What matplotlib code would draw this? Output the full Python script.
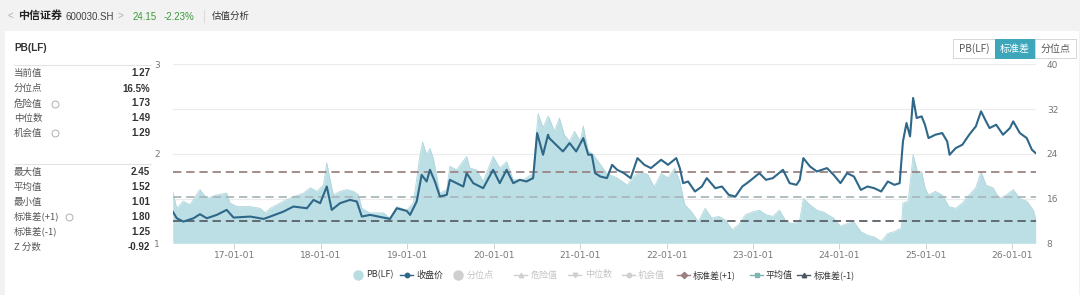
import matplotlib
matplotlib.use("Agg")
import matplotlib.pyplot as plt
import matplotlib.dates as mdates
from matplotlib.lines import Line2D
from matplotlib.patches import Rectangle
import pandas as pd

plt.rcParams['font.family'] = ['Noto Sans CJK SC', 'DejaVu Sans']
plt.rcParams['lines.scale_dashes'] = False

# ---------------- data ----------------
pb_dates = [
    "2016-04-15", "2016-05-02", "2016-05-30", "2016-06-27", "2016-08-08", "2016-09-06",
    "2016-10-18", "2016-11-29", "2016-12-13", "2017-01-12", "2017-03-09", "2017-04-20",
    "2017-05-11", "2017-06-01", "2017-07-27", "2017-09-07", "2017-10-20", "2017-11-17",
    "2017-12-15", "2018-01-12", "2018-01-26", "2018-02-09", "2018-02-23", "2018-03-23",
    "2018-04-21", "2018-05-19", "2018-06-09", "2018-06-23", "2018-07-28", "2018-09-22",
    "2018-10-20", "2018-11-18", "2018-12-30", "2019-01-27", "2019-02-24", "2019-03-07",
    "2019-03-24", "2019-04-07", "2019-04-21", "2019-05-19", "2019-06-17", "2019-06-30",
    "2019-07-29", "2019-09-09", "2019-09-23", "2019-10-21", "2019-11-18", "2019-12-30",
    "2020-01-27", "2020-02-25", "2020-03-24", "2020-05-05", "2020-06-16", "2020-07-07",
    "2020-07-28", "2020-08-18", "2020-08-23", "2020-09-14", "2020-10-05", "2020-10-26",
    "2020-11-17", "2020-12-08", "2021-01-01", "2021-01-14", "2021-02-04", "2021-02-26",
    "2021-03-27", "2021-04-24", "2021-06-06", "2021-07-19", "2021-08-16", "2021-09-14",
    "2021-10-13", "2021-11-10", "2021-12-09", "2022-01-07", "2022-02-04", "2022-02-26",
    "2022-03-19", "2022-04-17", "2022-05-15", "2022-06-13", "2022-07-11", "2022-08-09",
    "2022-09-07", "2022-10-05", "2022-11-03", "2022-12-01", "2022-12-30", "2023-01-28",
    "2023-02-25", "2023-03-26", "2023-04-23", "2023-05-22", "2023-06-19", "2023-07-18",
    "2023-08-02", "2023-08-30", "2023-09-28", "2023-10-26", "2023-12-08", "2024-01-06",
    "2024-02-03", "2024-03-03", "2024-04-01", "2024-04-29", "2024-05-28", "2024-06-26",
    "2024-07-24", "2024-08-21", "2024-09-19", "2024-09-26", "2024-10-18", "2024-11-08",
    "2024-11-29", "2024-12-14", "2024-12-28", "2025-01-12", "2025-02-10", "2025-03-11",
    "2025-04-08", "2025-05-07", "2025-06-04", "2025-07-03", "2025-07-31", "2025-08-22",
    "2025-09-12", "2025-10-11", "2025-11-08", "2025-12-07", "2026-01-05", "2026-02-02",
    "2026-03-03", "2026-03-31", "2026-04-10",
]
pb_values = [
    1.58, 1.39, 1.47, 1.43, 1.60, 1.50,
    1.54, 1.56, 1.45, 1.41, 1.41, 1.39,
    1.34, 1.39, 1.47, 1.52, 1.56, 1.62,
    1.58, 1.65, 1.90, 1.71, 1.54, 1.58,
    1.60, 1.58, 1.54, 1.39, 1.34, 1.34,
    1.28, 1.41, 1.37, 1.45, 1.99, 2.13,
    1.99, 2.06, 1.95, 1.56, 1.60, 1.86,
    1.82, 1.97, 1.84, 1.82, 1.69, 1.97,
    1.84, 1.91, 1.71, 1.71, 1.78, 2.45,
    2.29, 2.42, 2.40, 2.25, 2.40, 2.21,
    2.14, 2.25, 2.14, 2.31, 2.03, 1.99,
    1.88, 1.78, 1.73, 1.65, 1.75, 1.80,
    1.77, 1.63, 1.78, 1.73, 1.84, 1.69,
    1.43, 1.35, 1.24, 1.39, 1.28, 1.30,
    1.26, 1.15, 1.21, 1.32, 1.35, 1.37,
    1.32, 1.30, 1.37, 1.24, 1.22, 1.26,
    1.50, 1.43, 1.37, 1.35, 1.28, 1.19,
    1.22, 1.24, 1.13, 1.09, 1.07, 1.02,
    1.11, 1.13, 1.17, 1.45, 1.47, 1.99,
    1.77, 1.80, 1.62, 1.54, 1.58, 1.54,
    1.41, 1.39, 1.45, 1.54, 1.62, 1.80,
    1.65, 1.62, 1.50, 1.54, 1.60, 1.50,
    1.47, 1.37, 1.27,
]

close_dates = [
    "2016-04-15", "2016-05-02", "2016-05-30", "2016-07-12", "2016-08-08", "2016-09-06",
    "2016-10-18", "2016-11-29", "2016-12-28", "2017-03-09", "2017-05-04", "2017-06-01",
    "2017-07-27", "2017-09-07", "2017-11-03", "2017-12-01", "2017-12-29", "2018-01-26",
    "2018-02-16", "2018-03-23", "2018-05-04", "2018-06-02", "2018-06-23", "2018-07-28",
    "2018-09-22", "2018-10-20", "2018-11-18", "2018-12-30", "2019-01-13", "2019-02-10",
    "2019-03-03", "2019-03-24", "2019-04-07", "2019-04-28", "2019-05-19", "2019-06-17",
    "2019-06-30", "2019-07-29", "2019-08-26", "2019-09-09", "2019-10-07", "2019-11-18",
    "2019-12-30", "2020-01-27", "2020-02-25", "2020-03-24", "2020-04-21", "2020-05-19",
    "2020-06-16", "2020-07-03", "2020-07-28", "2020-08-18", "2020-08-23", "2020-09-21",
    "2020-10-20", "2020-11-17", "2020-12-15", "2021-01-14", "2021-02-04", "2021-02-19",
    "2021-03-05", "2021-03-27", "2021-04-24", "2021-05-16", "2021-06-06", "2021-07-05",
    "2021-08-02", "2021-08-31", "2021-09-29", "2021-10-27", "2021-12-09", "2022-01-07",
    "2022-02-11", "2022-02-26", "2022-03-12", "2022-04-02", "2022-05-01", "2022-05-30",
    "2022-06-20", "2022-07-26", "2022-08-23", "2022-09-21", "2022-10-19", "2022-11-17",
    "2022-12-16", "2023-01-28", "2023-02-25", "2023-03-26", "2023-05-08", "2023-06-05",
    "2023-07-04", "2023-07-18", "2023-08-02", "2023-08-30", "2023-09-28", "2023-11-10",
    "2023-12-08", "2024-01-06", "2024-02-03", "2024-03-03", "2024-04-01", "2024-04-29",
    "2024-05-28", "2024-06-26", "2024-07-24", "2024-08-21", "2024-09-12", "2024-09-26",
    "2024-10-11", "2024-10-26", "2024-11-08", "2024-11-23", "2024-12-14", "2024-12-28",
    "2025-01-12", "2025-02-10", "2025-03-11", "2025-04-01", "2025-04-11", "2025-05-07",
    "2025-06-04", "2025-07-03", "2025-07-31", "2025-08-22", "2025-09-12", "2025-09-27",
    "2025-10-25", "2025-11-23", "2025-12-22", "2026-01-05", "2026-02-02", "2026-03-03",
    "2026-03-25", "2026-04-10",
]
close_values = [
    13.67, 12.48, 11.88, 12.48, 13.20, 12.48,
    13.08, 13.97, 12.60, 12.78, 12.36, 12.78,
    13.67, 14.57, 14.27, 15.76, 15.17, 18.15,
    13.97, 15.17, 15.76, 15.47, 12.78, 13.08,
    12.60, 12.36, 14.27, 13.79, 13.08, 15.47,
    20.24, 19.05, 21.14, 19.05, 16.36, 16.66,
    19.35, 18.75, 18.15, 20.54, 18.75, 17.85,
    21.14, 18.75, 21.14, 18.75, 19.35, 19.05,
    19.65, 27.71, 23.83, 27.41, 26.81, 25.62,
    24.42, 25.92, 24.42, 26.81, 23.83, 23.83,
    20.54, 19.94, 19.65, 22.03, 21.14, 20.54,
    19.65, 23.23, 22.03, 21.44, 22.93, 22.03,
    23.23, 21.44, 18.75, 19.05, 17.26, 18.15,
    19.65, 17.85, 18.15, 16.66, 16.36, 18.15,
    19.05, 20.54, 19.35, 19.65, 21.14, 18.75,
    18.45, 19.35, 23.23, 21.74, 20.84, 21.44,
    20.24, 18.75, 20.54, 19.94, 17.55, 18.15,
    17.85, 17.26, 19.05, 18.45, 18.75, 26.21,
    29.50, 27.11, 33.98, 30.40, 30.69, 29.20,
    26.81, 27.41, 27.71, 26.21, 23.83, 25.02,
    25.62, 27.41, 28.90, 31.59, 29.80, 28.60,
    29.20, 27.41, 28.60, 29.80, 27.71, 26.81,
    24.72, 24.12,
]

std_plus1 = 1.80
mean_val = 1.52
std_minus1 = 1.25

stat_labels_1 = ["当前值", "分位点", "危险值", "中位数", "机会值"]
stat_values_1 = ["1.27", "16.5%", "1.73", "1.49", "1.29"]
stat_info_1 = [False, False, True, False, True]
stat_labels_2 = ["最大值", "平均值", "最小值", "标准差(+1)", "标准差(-1)", "Z 分数"]
stat_values_2 = ["2.45", "1.52", "1.01", "1.80", "1.25", "-0.92"]
stat_info_2 = [False, False, False, True, False, False]

left_ticks = [1, 2, 3]
right_ticks = [8, 16, 24, 32, 40]

legend_names = ["PB(LF)", "收盘价", "分位点", "危险值", "中位数", "机会值", "标准差(+1)", "平均值", "标准差(-1)"]

# ---------------- figure ----------------
W, H = 1080, 295
fig = plt.figure(figsize=(W / 100, H / 100), dpi=100)
fig.patch.set_facecolor('#f2f2f2')


def fx(x):
    return x / W


def fy(y):
    return 1 - y / H


LIB = ['Liberation Sans', 'DejaVu Sans']

fig.add_artist(Rectangle((fx(5), 0), fx(1074), fy(31), transform=fig.transFigure,
                         facecolor='white', edgecolor='none', zorder=0))

# header
fig.text(fx(8), fy(16), "<", fontsize=7, color='#b0b0b0', va='center', family=LIB)
fig.text(fx(18), fy(16), "中信证券", fontsize=7.9, fontweight='bold', color='#222222', va='center')
fig.text(fx(65), fy(16.5), "600030.SH", fontsize=7, color='#444444', va='center', family=LIB)
fig.text(fx(118), fy(16), ">", fontsize=7, color='#b0b0b0', va='center', family=LIB)
fig.text(fx(133), fy(16.5), "24.15", fontsize=7, color='#3a9a3a', va='center', family=LIB)
fig.text(fx(164), fy(16.5), "-2.23%", fontsize=7, color='#3a9a3a', va='center', family=LIB)
fig.add_artist(Line2D([fx(204), fx(204)], [fy(10), fy(22)], transform=fig.transFigure, color='#dddddd', lw=0.8))
fig.text(fx(212), fy(16), "估值分析", fontsize=6.8, color='#333333', va='center')

# left stats panel
fig.text(fx(14), fy(48), "PB(LF)", fontsize=7.2, fontweight='bold', color='#333333', va='center', family=LIB)
fig.add_artist(Line2D([fx(14), fx(151)], [fy(65), fy(65)], transform=fig.transFigure, color='#e3e3e3', lw=0.8))
fig.add_artist(Line2D([fx(14), fx(151)], [fy(164), fy(164)], transform=fig.transFigure, color='#e3e3e3', lw=0.8))
ys1 = [73.3, 88.5, 103.5, 118, 133]
ys2 = [172, 187.3, 202.3, 217.3, 232.3, 247.3]
for labels, values, infos, ys in [(stat_labels_1, stat_values_1, stat_info_1, ys1),
                                  (stat_labels_2, stat_values_2, stat_info_2, ys2)]:
    for lab, val, inf, yy in zip(labels, values, infos, ys):
        fig.text(fx(14), fy(yy), lab, fontsize=6.8, color='#555555', va='center')
        fig.text(fx(150), fy(yy), val, fontsize=7, color='#333333', va='center', ha='right',
                 fontweight='bold', family=LIB)
        if inf:
            xi = 55 if len(lab) == 3 else 69
            fig.add_artist(Line2D([fx(xi)], [fy(yy)], transform=fig.transFigure, marker='o',
                                  ms=5, mfc='none', mec='#b0b0b0', mew=0.7))

# buttons
btns = [("PB(LF)", 953, 995, False), ("标准差", 995, 1035, True), ("分位点", 1035, 1076, False)]
for name, x0, x1, active in btns:
    fig.add_artist(Rectangle((fx(x0), fy(58)), fx(x1 - x0), fy(39) - fy(58), transform=fig.transFigure,
                             facecolor='#3ea6bb' if active else 'white',
                             edgecolor='#3ea6bb' if active else '#d6d6d6', lw=0.7, zorder=2))
    fig.text(fx((x0 + x1) / 2), fy(48.5), name, fontsize=7.2, ha='center', va='center', zorder=3,
             color='white' if active else '#555555')

# ---------------- chart ----------------
ax = fig.add_axes([fx(172.5), fy(243.3), fx(1035.7) - fx(172.5), fy(64.3) - fy(243.3)])
ax2 = ax.twinx()

pbd = pd.to_datetime(pb_dates)
cd = pd.to_datetime(close_dates)

ax.fill_between(pbd, 1, pb_values, color='#bcdfe5', lw=0, zorder=2)
ax.plot(pbd, pb_values, color='#b0d6dc', lw=0.6, zorder=2)

for val, col in [(std_plus1, '#9c8585'), (mean_val, '#a9b9bb'), (std_minus1, '#5a6168')]:
    ax.axhline(val, color=col, lw=1.3, dashes=(6, 3.5), zorder=4)

ax2.plot(cd, close_values, color='#2e6788', lw=1.5, zorder=5)

ax.set_ylim(1, 3)
ax2.set_ylim(8, 40)
ax.set_xlim(pd.Timestamp("2016-04-14"), pd.Timestamp("2026-04-10"))

ax.set_yticks(left_ticks)
ax2.set_yticks(right_ticks)
for yv in right_ticks:
    ax.axhline(1 + (yv - 8) / 16, color='#ececec', lw=0.8, zorder=0)
ax2.set_zorder(3)
ax.set_zorder(2)
ax2.patch.set_visible(False)

ax.xaxis.set_major_locator(mdates.YearLocator())
ax.xaxis.set_major_formatter(mdates.DateFormatter('%y-%m-%d'))

for a in (ax, ax2):
    for s in a.spines.values():
        s.set_visible(False)
ax.tick_params(axis='y', length=0, pad=9, labelsize=6.5, labelcolor='#777777')
ax2.tick_params(axis='y', length=0, pad=8, labelsize=6.5, labelcolor='#777777')
ax.tick_params(axis='x', length=4, width=0.6, color='#cccccc', pad=1.5, labelsize=6.6, labelcolor='#777777')
for lbl in ax.get_xticklabels() + ax.get_yticklabels() + ax2.get_yticklabels():
    lbl.set_family('DejaVu Sans')

# ---------------- legend ----------------
ly = fy(275)
gray = '#cfcfcf'
leg = [
    (legend_names[0], 356, 360, '#b7dde3', 'o', False, 366, '#333333'),
    (legend_names[1], 400, 413, '#2e6788', 'o', True, 416, '#333333'),
    (legend_names[2], 456, 460, gray, 'o', False, 467, '#c4c4c4'),
    (legend_names[3], 514, 527, gray, '^', True, 531, '#c4c4c4'),
    (legend_names[4], 568, 581, gray, 'v', True, 585, '#c4c4c4'),
    (legend_names[5], 622, 635, gray, 'o', True, 638, '#c4c4c4'),
    (legend_names[6], 677, 690, '#9c7f7f', 'D', True, 693, '#333333'),
    (legend_names[7], 750, 763, '#7fb5b0', 's', True, 766, '#333333'),
    (legend_names[8], 797, 810, '#4a5560', '^', True, 814, '#333333'),
]
for name, x0, x1, col, mk, isline, tx, tcol in leg:
    xm = (x0 + x1) / 2
    if isline:
        fig.add_artist(Line2D([fx(x0), fx(x1)], [ly, ly], transform=fig.transFigure, color=col, lw=1.0))
        fig.add_artist(Line2D([fx(xm)], [ly], transform=fig.transFigure, marker=mk, ms=3.2,
                              color=col, mec=col))
    else:
        fig.add_artist(Line2D([fx(xm)], [ly], transform=fig.transFigure, marker=mk, ms=6.5,
                              color=col, mec=col))
    fig.text(fx(tx), ly, name, fontsize=6.5, color=tcol, va='center')

fig.savefig("out.png", dpi=100, facecolor=fig.get_facecolor())
